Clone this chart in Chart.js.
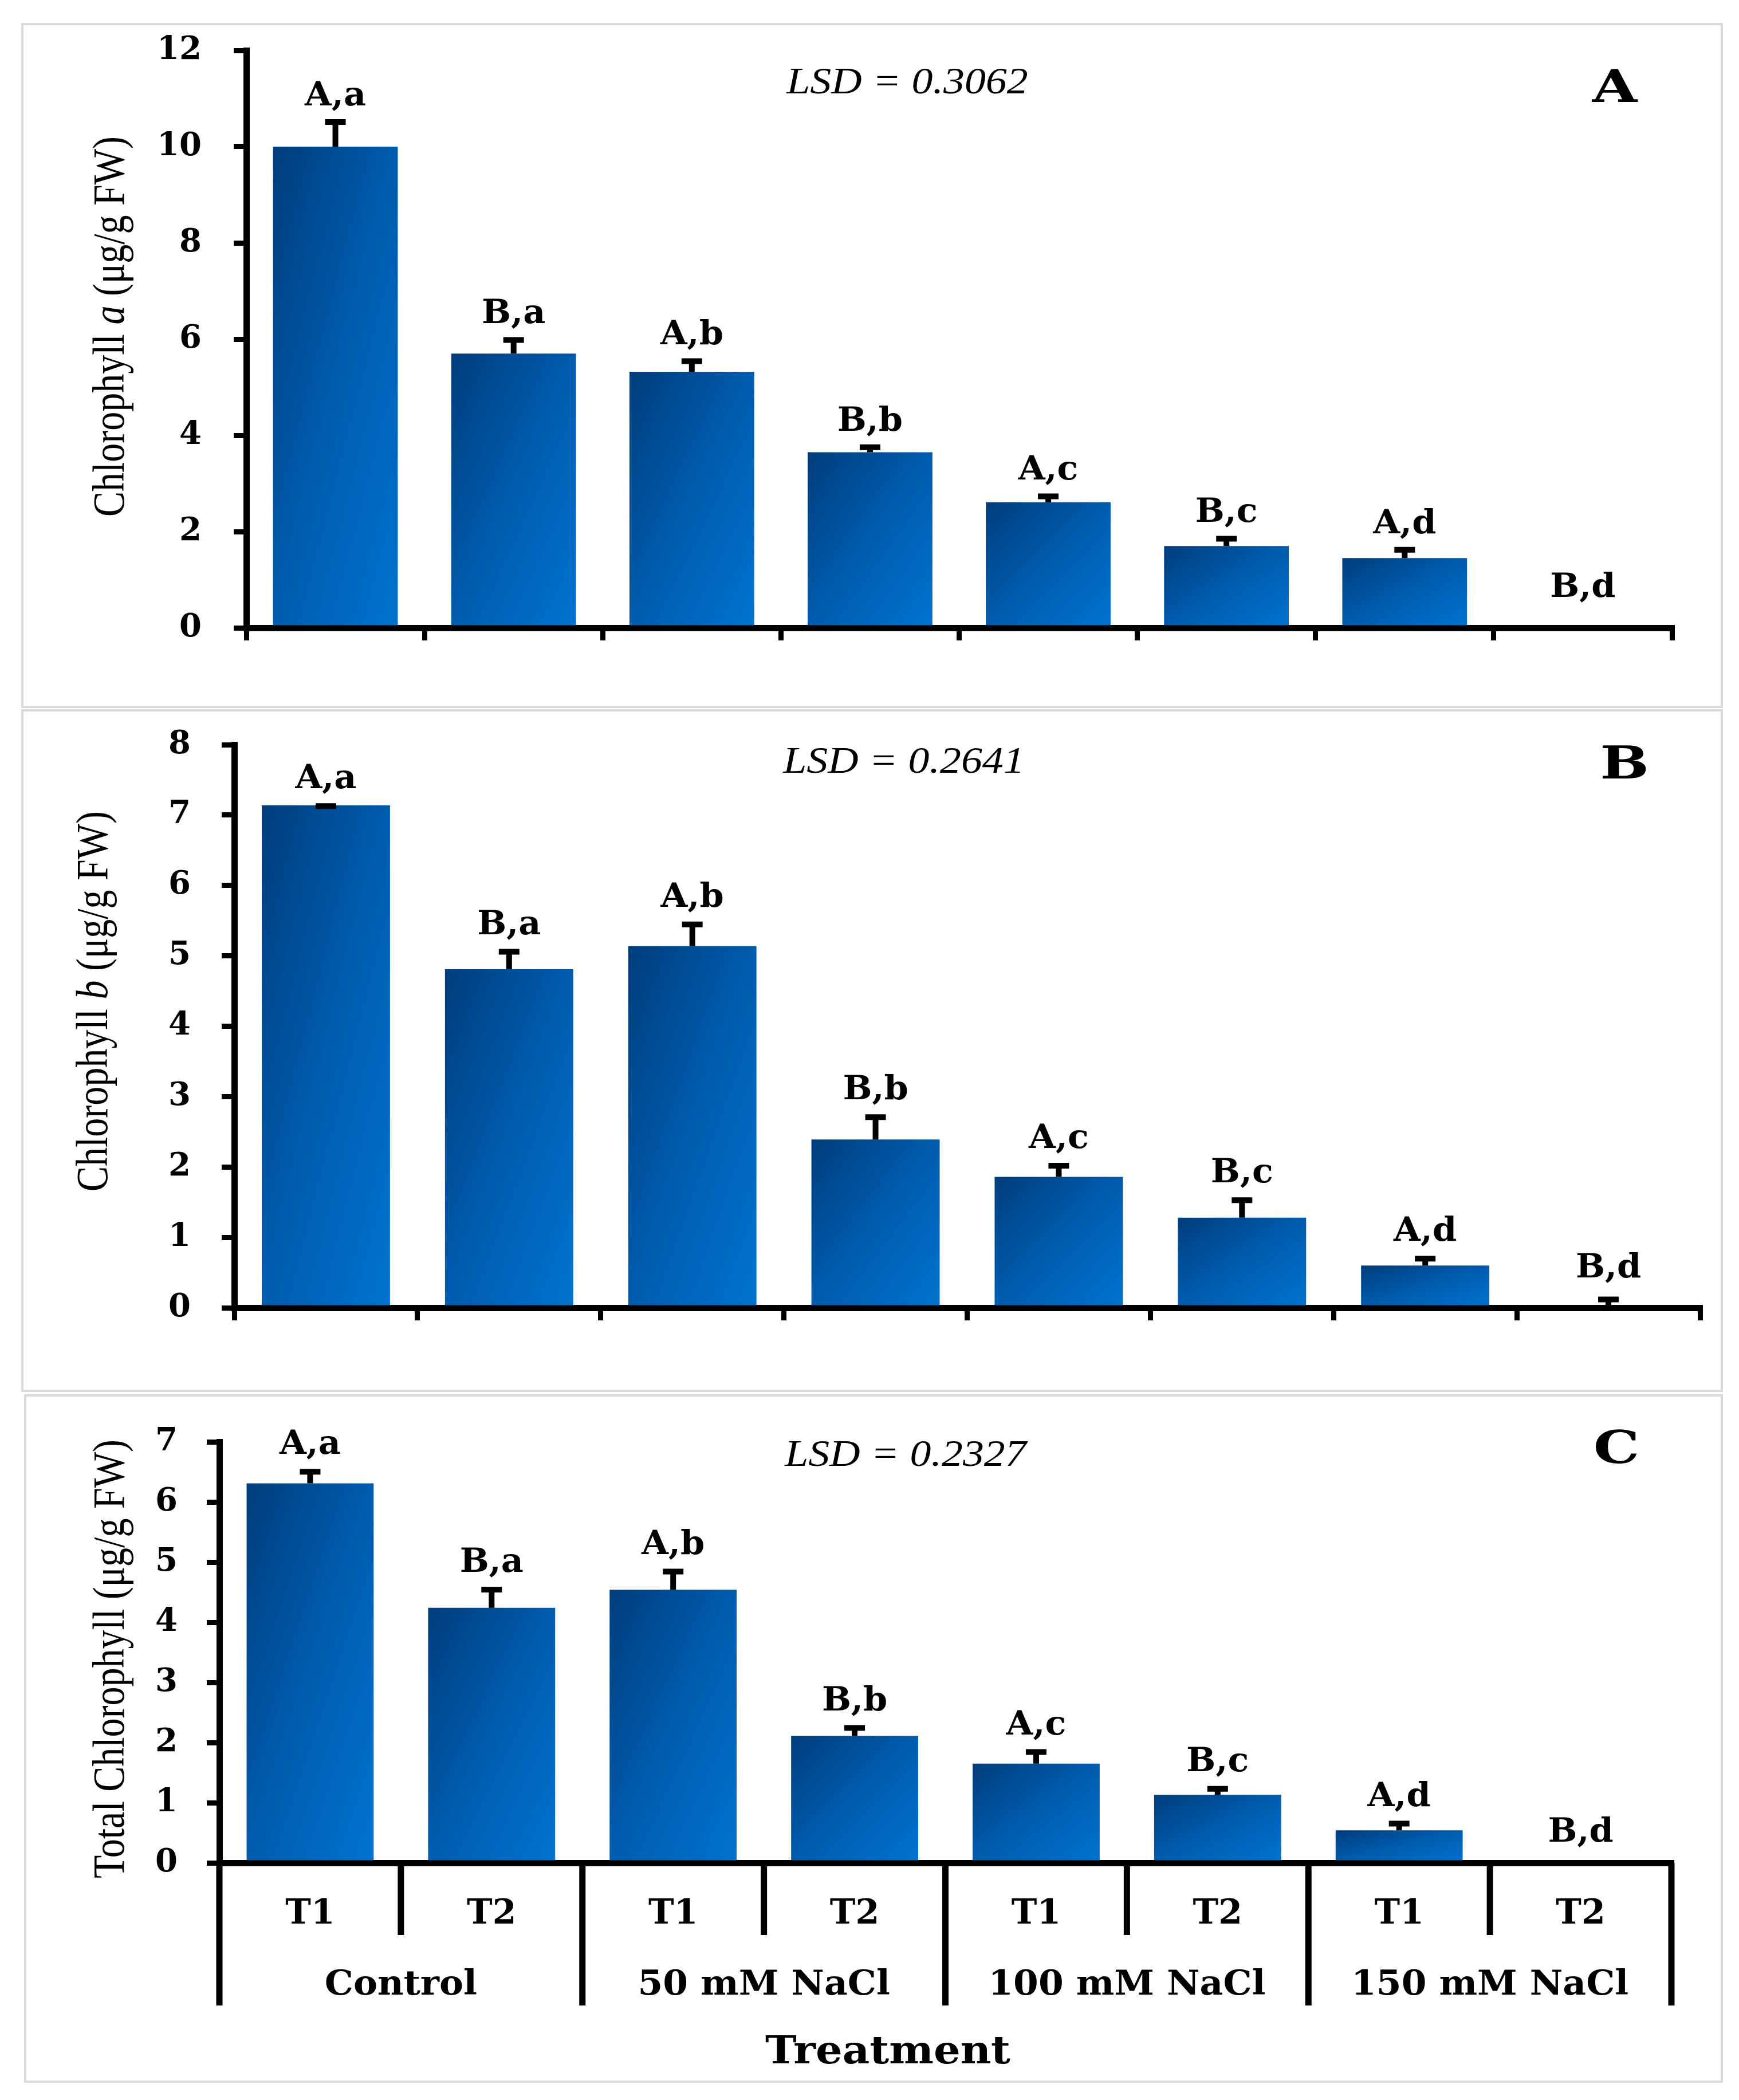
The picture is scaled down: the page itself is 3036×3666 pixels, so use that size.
<!DOCTYPE html>
<html><head><meta charset="utf-8">
<script src="https://cdn.jsdelivr.net/npm/chart.js@4.4.1/dist/chart.umd.min.js"></script>
<style>
html,body{margin:0;padding:0;background:#fff;}
body{width:3036px;height:3666px;position:relative;overflow:hidden;}
.panel{position:absolute;box-sizing:border-box;border:4px solid #dadada;background:#fff;}
.panel canvas{position:absolute;left:-4px;top:-4px;}
</style></head><body>
<div class="panel" style="left:37px;top:40px;width:2971px;height:1196px"><canvas id="cA" width="2971" height="1196"></canvas></div>
<div class="panel" style="left:37px;top:1238px;width:2971px;height:1192px"><canvas id="cB" width="2971" height="1192"></canvas></div>
<div class="panel" style="left:42px;top:2434px;width:2966px;height:1202px"><canvas id="cC" width="2966" height="1202"></canvas></div>
<script>
// ---------- data ----------
const categories = ['T1','T2','T1','T2','T1','T2','T1','T2'];
const groups = ['Control','50 mM NaCl','100 mM NaCl','150 mM NaCl'];
const letters = ['A,a','B,a','A,b','B,b','A,c','B,c','A,d','B,d'];

const chlA    = [10.00, 5.70, 5.32, 3.65, 2.61, 1.70, 1.45, 0];
const chlAErr = [0.56, 0.33, 0.27, 0.15, 0.17, 0.20, 0.22, 0];

const chlB    = [7.14, 4.81, 5.14, 2.39, 1.86, 1.28, 0.60, 0];
const chlBErr = [0.02, 0.28, 0.34, 0.35, 0.19, 0.28, 0.13, 0.15];

const totChl    = [6.31, 4.24, 4.54, 2.11, 1.65, 1.13, 0.54, 0];
const totChlErr = [0.23, 0.34, 0.34, 0.17, 0.23, 0.14, 0.15, 0];

const yMaxA = 12, yStepA = 2;
const yMaxB = 8,  yStepB = 1;
const yMaxC = 7,  yStepC = 1;

const lsdA = 'LSD = 0.3062', lsdB = 'LSD = 0.2641', lsdC = 'LSD = 0.2327';
const xTitle = 'Treatment';

// ---------- style ----------
const BAR_PCT = 0.70;
const BOLD = '"DejaVu Serif", serif';
const SERIF = '"Liberation Serif", "Times New Roman", serif';

function barGradient(c){
  const chart = c.chart;
  if (!chart.chartArea) return '#005aa8';
  const xs = chart.scales.x, ys = chart.scales.y;
  const cx = xs.getPixelForValue(c.dataIndex);
  const w = xs.width / categories.length * BAR_PCT;
  const top = ys.getPixelForValue(c.raw), bot = ys.getPixelForValue(0);
  const h = Math.max(bot - top, 1);
  const k = 2 * w * h / (h*h + w*w);
  const x0 = cx - w/2, y0 = top;
  const g = chart.ctx.createLinearGradient(x0, y0, x0 + h*k, y0 + w*k);
  g.addColorStop(0, '#003d7c');
  g.addColorStop(0.5, '#005cae');
  g.addColorStop(1, '#0073d0');
  return g;
}

function stretchText(ctx, text, x, y, font, sx, align){
  ctx.save();
  ctx.translate(x, y);
  ctx.scale(sx, 1);
  ctx.font = font;
  ctx.textAlign = align || 'center';
  ctx.textBaseline = 'alphabetic';
  ctx.fillStyle = '#000';
  ctx.fillText(text, 0, 0);
  ctx.restore();
}

function rotatedTitle(ctx, segs, bx, cy, sy){
  ctx.save();
  ctx.translate(bx, cy);
  ctx.rotate(-Math.PI/2);
  ctx.scale(1, sy);
  ctx.textBaseline = 'alphabetic';
  ctx.textAlign = 'left';
  ctx.fillStyle = '#000';
  let total = 0;
  segs.forEach(s => { ctx.font = s.f; s.w = ctx.measureText(s.t).width; total += s.w; });
  let x = -total/2;
  segs.forEach(s => { ctx.font = s.f; ctx.fillText(s.t, x, 0); x += s.w; });
  ctx.restore();
}

function makeChart(id, p){
  const annot = {
    id: 'annot' + id,
    afterDatasetsDraw(chart){
      const ctx = chart.ctx, xs = chart.scales.x, ys = chart.scales.y;
      ctx.save();
      ctx.strokeStyle = '#000';
      ctx.lineCap = 'butt';
      p.values.forEach((v, i) => {
        const e = p.errors[i];
        if (!(e > 0)) return;
        const x = xs.getPixelForValue(i);
        const y1 = ys.getPixelForValue(v), y2 = ys.getPixelForValue(v + e);
        ctx.lineWidth = 10;
        ctx.beginPath();
        ctx.moveTo(x, y1); ctx.lineTo(x, y2 + 4);
        ctx.stroke();
        ctx.beginPath();
        ctx.moveTo(x - 18, y2 + 4); ctx.lineTo(x + 18, y2 + 4);
        ctx.stroke();
      });
      ctx.restore();
    },
    afterDraw(chart){
      const ctx = chart.ctx, xs = chart.scales.x, ys = chart.scales.y, ca = chart.chartArea;
      // significance letters
      p.values.forEach((v, i) => {
        const x = xs.getPixelForValue(i);
        let y = ys.getPixelForValue(v + (p.errors[i] || 0)) - p.labelGap;
        y = Math.min(y, ca.bottom - p.minLabelOffset);
        stretchText(ctx, letters[i], x, y, 'bold 57px ' + BOLD, 1.06, 'center');
      });
      // LSD
      stretchText(ctx, p.lsd, p.lsdPos[0], p.lsdPos[1], 'italic 66px ' + SERIF, 1.12, 'center');
      // panel letter
      stretchText(ctx, p.letter, p.letterPos[0], p.letterPos[1], 'bold 78px ' + BOLD, 1.3, 'center');
      // y title
      rotatedTitle(ctx, p.title, p.titlePos[0], p.titlePos[1], 1.18);
      if (p.treatmentAxis){
        ctx.save();
        ctx.strokeStyle = '#000';
        ctx.lineWidth = 11;
        for (let i = 0; i <= categories.length; i++){
          const x = xs.getPixelForValue(i - 0.5);
          const len = (i % 2 === 0) ? 249 : 126;
          ctx.beginPath();
          ctx.moveTo(x, ca.bottom);
          ctx.lineTo(x, ca.bottom + len);
          ctx.stroke();
        }
        ctx.restore();
        categories.forEach((c, i) => {
          stretchText(ctx, c, xs.getPixelForValue(i), ca.bottom + 106, 'bold 60px ' + BOLD, 1.0, 'center');
        });
        groups.forEach((g, j) => {
          const x = (xs.getPixelForValue(2*j) + xs.getPixelForValue(2*j + 1)) / 2;
          stretchText(ctx, g, x, ca.bottom + 230, 'bold 60px ' + BOLD, 1.05, 'center');
        });
        stretchText(ctx, xTitle, p.xTitlePos[0], p.xTitlePos[1], 'bold 68px ' + BOLD, 1.08, 'center');
      }
    }
  };
  return new Chart(document.getElementById(id), {
    type: 'bar',
    data: {
      labels: categories,
      datasets: [{
        data: p.values,
        backgroundColor: barGradient,
        borderWidth: 0,
        barPercentage: BAR_PCT,
        categoryPercentage: 1.0
      }]
    },
    options: {
      responsive: false,
      animation: false,
      devicePixelRatio: 1,
      events: [],
      layout: { padding: { left: 0, top: p.padTop, right: p.padRight, bottom: 0 } },
      plugins: { legend: { display: false }, tooltip: { enabled: false } },
      scales: {
        x: {
          offset: true,
          grid: { display: !p.treatmentAxis, offset: true, drawOnChartArea: false, drawTicks: true,
                  tickLength: 22, lineWidth: 9, color: '#000', tickColor: '#000' },
          border: { display: true, width: 11, color: '#000' },
          ticks: { display: false },
          afterFit: s => { s.height = p.xAxisHeight; s.paddingLeft = 0; s.paddingRight = 0; }
        },
        y: {
          min: 0, max: p.yMax,
          grid: { drawOnChartArea: false, drawTicks: true, tickLength: 22, lineWidth: 9, color: '#000', tickColor: '#000' },
          border: { display: true, width: 11, color: '#000' },
          ticks: { stepSize: p.yStep, color: '#000', padding: p.tickPad,
                   font: { family: BOLD, weight: 'bold', size: 56 } },
          afterFit: s => { s.width = p.yAxisWidth; s.paddingTop = 0; s.paddingBottom = 0; }
        }
      }
    },
    plugins: [annot]
  });
}

const titleA = [
  { t: 'Chlorophyll ', f: '66px ' + SERIF },
  { t: 'a', f: 'italic 66px ' + SERIF },
  { t: ' (μg/g FW)', f: '66px ' + SERIF }
];
const titleB = [
  { t: 'Chlorophyll ', f: '66px ' + SERIF },
  { t: 'b', f: 'italic 66px ' + SERIF },
  { t: ' (μg/g FW)', f: '66px ' + SERIF }
];
const titleC = [ { t: 'Total Chlorophyll (μg/g FW)', f: '66px ' + SERIF } ];

makeChart('cA', {
  values: chlA, errors: chlAErr, yMax: yMaxA, yStep: yStepA,
  yAxisWidth: 393, xAxisHeight: 140, padTop: 48, padRight: 89, labelGap: 25, minLabelOffset: 54, tickPad: 56,
  lsd: lsdA, lsdPos: [1547, 123], letter: 'A', letterPos: [2782, 138],
  title: titleA, titlePos: [179, 530]
});
makeChart('cB', {
  values: chlB, errors: chlBErr, yMax: yMaxB, yStep: yStepB,
  yAxisWidth: 372, xAxisHeight: 147, padTop: 62, padRight: 40, labelGap: 27, minLabelOffset: 53, tickPad: 54,
  lsd: lsdB, lsdPos: [1541, 111], letter: 'B', letterPos: [2799, 121],
  title: titleB, titlePos: [150, 510]
});
makeChart('cC', {
  values: totChl, errors: totChlErr, yMax: yMaxC, yStep: yStepC,
  yAxisWidth: 341, xAxisHeight: 384, padTop: 83, padRight: 90, labelGap: 27, minLabelOffset: 37, tickPad: 51,
  lsd: lsdC, lsdPos: [1539, 125], letter: 'C', letterPos: [2780, 120],
  title: titleC, titlePos: [174, 462],
  treatmentAxis: true, xTitlePos: [1508, 1168]
});
</script>
</body></html>
